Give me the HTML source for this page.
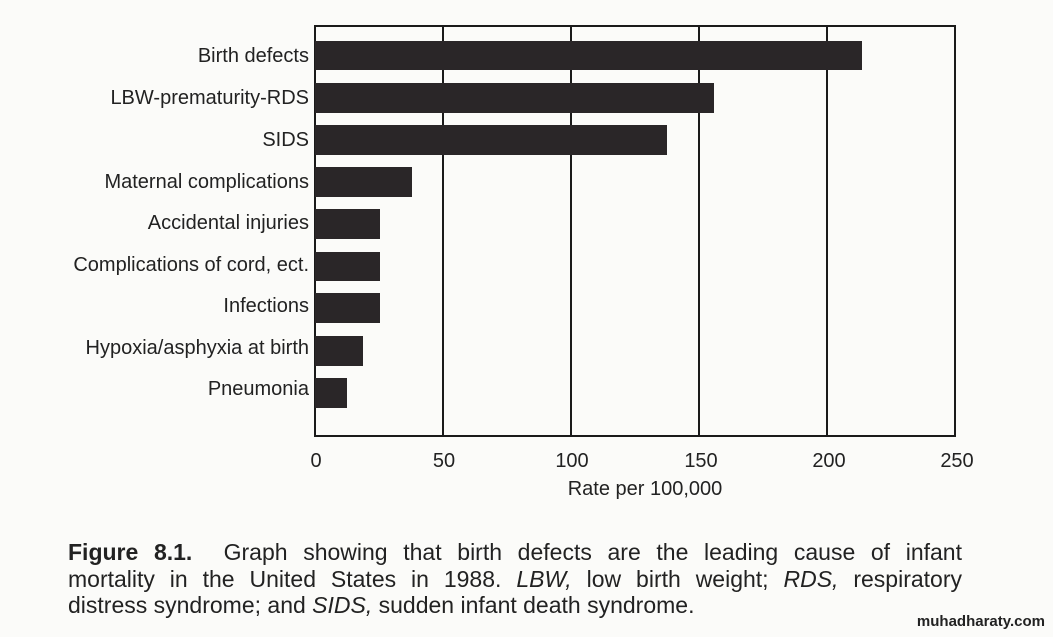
<!DOCTYPE html>
<html><head><meta charset="utf-8"><style>
html,body{margin:0;padding:0;background:#fbfbf9;}
body{width:1053px;height:637px;overflow:hidden;position:relative;font-family:"Liberation Sans",sans-serif;}
svg{position:absolute;left:0;top:0;}
.cap{position:absolute;left:68px;width:894px;font-family:"Liberation Sans Narrow","Liberation Sans",sans-serif;font-size:23px;color:#222;line-height:26.5px;top:539px;}
.cap div{text-align:justify;text-align-last:justify;white-space:nowrap;}
.cap div.l{text-align-last:left;}
.wm{position:absolute;right:8px;top:613px;font-size:15px;font-weight:bold;color:#222;}
</style></head><body>
<svg width="1053" height="637" font-family="Liberation Sans, sans-serif" fill="#222">
<g stroke="#1a1a1a" stroke-width="2" fill="none">
<rect x="315" y="26" width="640" height="410"/>
<line x1="443" y1="26" x2="443" y2="436"/>
<line x1="571" y1="26" x2="571" y2="436"/>
<line x1="699" y1="26" x2="699" y2="436"/>
<line x1="827" y1="26" x2="827" y2="436"/>
</g>
<g fill="#2a2628">
<rect x="315" y="41" width="547" height="29"/>
<rect x="315" y="83" width="399" height="30"/>
<rect x="315" y="125" width="352" height="30"/>
<rect x="315" y="167" width="97" height="30"/>
<rect x="315" y="209" width="65" height="30"/>
<rect x="315" y="252" width="65" height="29"/>
<rect x="315" y="293" width="65" height="30"/>
<rect x="315" y="336" width="48" height="30"/>
<rect x="315" y="378" width="32" height="30"/>
</g>
<g font-size="20" text-anchor="end">
<text x="309" y="62">Birth defects</text>
<text x="309" y="104">LBW-prematurity-RDS</text>
<text x="309" y="146">SIDS</text>
<text x="309" y="188">Maternal complications</text>
<text x="309" y="229">Accidental injuries</text>
<text x="309" y="271">Complications of cord, ect.</text>
<text x="309" y="312">Infections</text>
<text x="309" y="354">Hypoxia/asphyxia at birth</text>
<text x="309" y="395">Pneumonia</text>
</g>
<g font-size="20" text-anchor="middle">
<text x="316" y="467">0</text>
<text x="444" y="467">50</text>
<text x="572" y="467">100</text>
<text x="701" y="467">150</text>
<text x="829" y="467">200</text>
<text x="957" y="467">250</text>
<text x="645" y="495">Rate per 100,000</text>
</g>
</svg>
<div class="cap">
<div><b>Figure 8.1.</b>&nbsp; Graph showing that birth defects are the leading cause of infant</div>
<div>mortality in the United States in 1988. <i>LBW,</i> low birth weight; <i>RDS,</i> respiratory</div>
<div class="l">distress syndrome; and <i>SIDS,</i> sudden infant death syndrome.</div>
</div>
<div class="wm">muhadharaty.com</div>
</body></html>
